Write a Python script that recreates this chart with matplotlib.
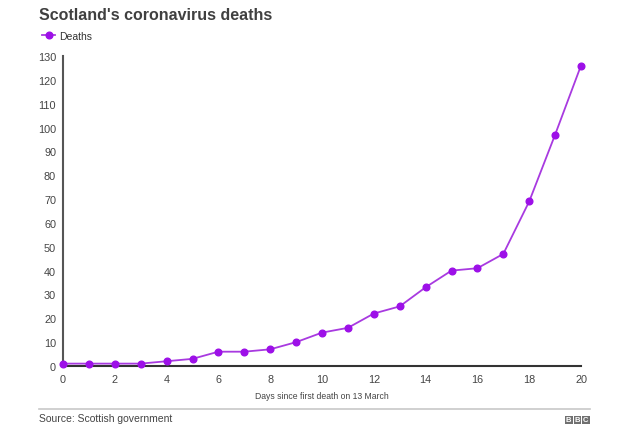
import matplotlib
matplotlib.use("Agg")
import matplotlib.pyplot as plt
from matplotlib.patches import Rectangle

plt.rcParams['font.family'] = ['Liberation Sans', 'DejaVu Sans']

days = list(range(21))
deaths = [1, 1, 1, 1, 2, 3, 6, 6, 7, 10, 14, 16, 22, 25, 33, 40, 41, 47, 69, 97, 126]
x_ticks = list(range(0, 21, 2))
y_ticks = list(range(0, 131, 10))

W, H = 640, 435
fig = plt.figure(figsize=(W / 100, H / 100), dpi=100)
ax = fig.add_axes([63 / W, 1 - 367 / H, (581 - 63) / W, (367 - 57) / H])

purple = '#9d10e8'
ax.plot(days, deaths, color='#a83ae0', lw=1.3, marker='o', markersize=4.8,
        markerfacecolor=purple, markeredgecolor=purple, label='Deaths', clip_on=False, zorder=3)

ax.set_xlim(0, 20)
ax.set_ylim(0, 130)
ax.set_xticks(x_ticks)
ax.set_yticks(y_ticks)
for s in ['top', 'right']:
    ax.spines[s].set_visible(False)
ax.spines['left'].set_color('#555555')
ax.spines['left'].set_linewidth(1.5)
ax.spines['bottom'].set_color('#333333')
ax.spines['bottom'].set_linewidth(1.5)
ax.tick_params(axis='y', length=0, labelsize=7.8, labelcolor='#444444', pad=5)
ax.tick_params(axis='x', length=0, labelsize=7.8, labelcolor='#444444', pad=6)
ax.set_xlabel('Days since first death on 13 March', fontsize=6.2, color='#444444', labelpad=5)

fig.text(39 / W, 1 - 16 / H, "Scotland's coronavirus deaths", fontsize=11.5, fontweight='bold',
         color='#404040', va='center', ha='left')
# legend
fig.legend(loc='center left', bbox_to_anchor=(33 / W, 1 - 37 / H), frameon=False, fontsize=7.5,
           handlelength=1.2, handletextpad=0.4, markerscale=1.0, labelcolor='#333333')

# source line and text
fig.add_artist(plt.Line2D([39 / W, 590 / W], [1 - 410 / H, 1 - 410 / H], color='#c8c8c8', lw=1.2))
fig.text(39 / W, 1 - 419 / H, 'Source: Scottish government', fontsize=7.5, color='#444444',
         va='center', ha='left')

# BBC logo
for i, letter in enumerate('BBC'):
    x0 = (565 + i * 8.5) / W
    fig.add_artist(Rectangle((x0, 1 - 425 / H), 7.5 / W, 8 / H, transform=fig.transFigure,
                             facecolor='#707070', edgecolor='none'))
    fig.text(x0 + 3.75 / W, 1 - 421 / H, letter, fontsize=5.5, fontweight='bold',
             color='white', ha='center', va='center')

fig.savefig('out.png', dpi=100, facecolor='white')
